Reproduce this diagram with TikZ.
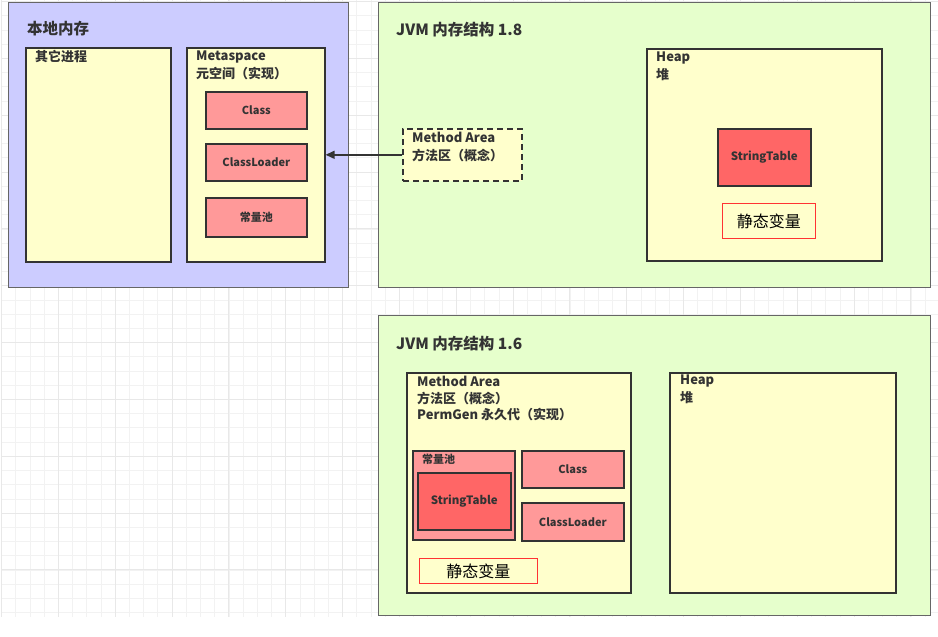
\documentclass[tikz,border=0pt]{standalone}
\usepackage{fontspec}
\setmainfont{Noto Sans CJK SC}
\usetikzlibrary{arrows.meta,positioning}
\definecolor{ink}{HTML}{333333}
\definecolor{frame}{HTML}{666666}
\definecolor{lavender}{HTML}{CCCCFF}
\definecolor{mint}{HTML}{E6FFCC}
\definecolor{cream}{HTML}{FFFFCC}
\definecolor{salmon}{HTML}{FF9999}
\definecolor{tomato}{HTML}{FF6666}
\definecolor{redline}{HTML}{FF3333}
\definecolor{gridminor}{HTML}{F2F2F2}
\definecolor{gridmajor}{HTML}{E8E8E8}
\tikzset{
  area/.style={draw=frame,line width=1.2pt,anchor=north west,inner sep=0pt},
  blk/.style={draw=ink,line width=1.6pt,anchor=north west,inner sep=0pt,fill=cream},
  part/.style={blk,fill=salmon,text=ink,font=\bfseries\fontsize{11}{13}\selectfont},
  core/.style={part,fill=tomato,font=\bfseries\fontsize{11.5}{13}\selectfont},
  note/.style={draw=redline,line width=0.8pt,anchor=north west,inner sep=0pt,
               font=\fontsize{16}{18}\selectfont},
  ttl/.style={anchor=west,inner sep=0pt,text=ink,font=\bfseries\fontsize{15.5}{17}\selectfont},
  lbl/.style={anchor=west,inner sep=0pt,text=ink,font=\bfseries\fontsize{13}{15}\selectfont},
  small/.style={lbl,font=\bfseries\fontsize{11}{13}\selectfont},
  arr/.style={-{Triangle[length=9pt,width=8pt]},line width=1.5pt,ink},
}
\begin{document}
\begin{tikzpicture}[x=1pt,y=-1pt]
  \useasboundingbox (0,0) rectangle (938,637);
  % canvas grid
  \foreach \i in {0,...,65}{\draw[gridminor,line width=0.7pt] ({1.5+\i*14.21},0) -- ({1.5+\i*14.21},617);}
  \foreach \j in {0,...,43}{\draw[gridminor,line width=0.7pt] (2,{1.5+\j*14.21}) -- (938,{1.5+\j*14.21});}
  \foreach \i in {0,...,16}{\draw[gridmajor,line width=0.9pt] ({1.5+\i*56.84},0) -- ({1.5+\i*56.84},617);}
  \foreach \j in {0,...,10}{\draw[gridmajor,line width=0.9pt] (2,{1.5+\j*56.84}) -- (938,{1.5+\j*56.84});}

  % native memory
  \node[area,fill=lavender,minimum width=340pt,minimum height=285pt] (native) at (8,2) {};
  \node[ttl] (nativet) at (27,29) {本地内存};
  \node[blk,minimum width=145pt,minimum height=214pt] (other) at (25,47) {};
  \node[lbl] (othert) at (35,57) {其它进程};
  \node[blk,minimum width=138pt,minimum height=214pt] (meta) at (186,47) {};
  \node[lbl] (metat) at (196,57) {Metaspace};
  \node[lbl] (metas) at (196,74) {元空间（实现）};
  \node[part,minimum width=101pt,minimum height=37pt] (cls8) at (205,91) {Class};
  \node[part,minimum width=101pt,minimum height=37pt] (ldr8) at (205,143) {ClassLoader};
  \node[part,minimum width=101pt,minimum height=39pt] (pool8) at (205,197) {常量池};

  % jvm 1.8
  \node[area,fill=mint,minimum width=552pt,minimum height=285pt] (jvm8) at (378,2) {};
  \node[ttl] (jvm8t) at (396,30) {JVM 内存结构 1.8};
  \node[blk,dashed,dash pattern=on 6pt off 4pt,minimum width=119pt,minimum height=52pt] (ma8) at (402,128) {};
  \node[lbl] (ma8t) at (412,137) {Method Area};
  \node[lbl] (ma8s) at (412,155) {方法区（概念）};
  \node[blk,minimum width=235pt,minimum height=212pt] (heap8) at (646,48) {};
  \node[lbl] (heap8t) at (656,58) {Heap};
  \node[lbl] (heap8s) at (656,75) {堆};
  \node[core,minimum width=93pt,minimum height=57pt] (st8) at (717,128) {StringTable};
  \node[note,minimum width=93pt,minimum height=35pt] (sv8) at (722,203) {静态变量};
  \draw[arr] (ma8.west) -- (meta.east);

  % jvm 1.6
  \node[area,fill=mint,minimum width=552pt,minimum height=300pt] (jvm6) at (378,315) {};
  \node[ttl] (jvm6t) at (396,344) {JVM 内存结构 1.6};
  \node[blk,minimum width=224pt,minimum height=220pt] (ma6) at (406,372) {};
  \node[lbl] (ma6t) at (417,381) {Method Area};
  \node[lbl] (ma6s) at (417,398) {方法区（概念）};
  \node[lbl] (ma6p) at (417,415) {PermGen 永久代（实现）};
  \node[part,minimum width=102pt,minimum height=89pt] (pool6) at (412,450) {};
  \node[small] (pool6t) at (422,459) {常量池};
  \node[core,minimum width=93pt,minimum height=57pt] (st6) at (417,472) {StringTable};
  \node[part,minimum width=102pt,minimum height=37pt] (cls6) at (521,450) {Class};
  \node[part,minimum width=102pt,minimum height=38pt] (ldr6) at (521,502) {ClassLoader};
  \node[note,minimum width=118pt,minimum height=25pt] (sv6) at (419,558) {静态变量};
  \node[blk,minimum width=226pt,minimum height=220pt] (heap6) at (669,372) {};
  \node[lbl] (heap6t) at (680,381) {Heap};
  \node[lbl] (heap6s) at (680,398) {堆};
\end{tikzpicture}
\end{document}
